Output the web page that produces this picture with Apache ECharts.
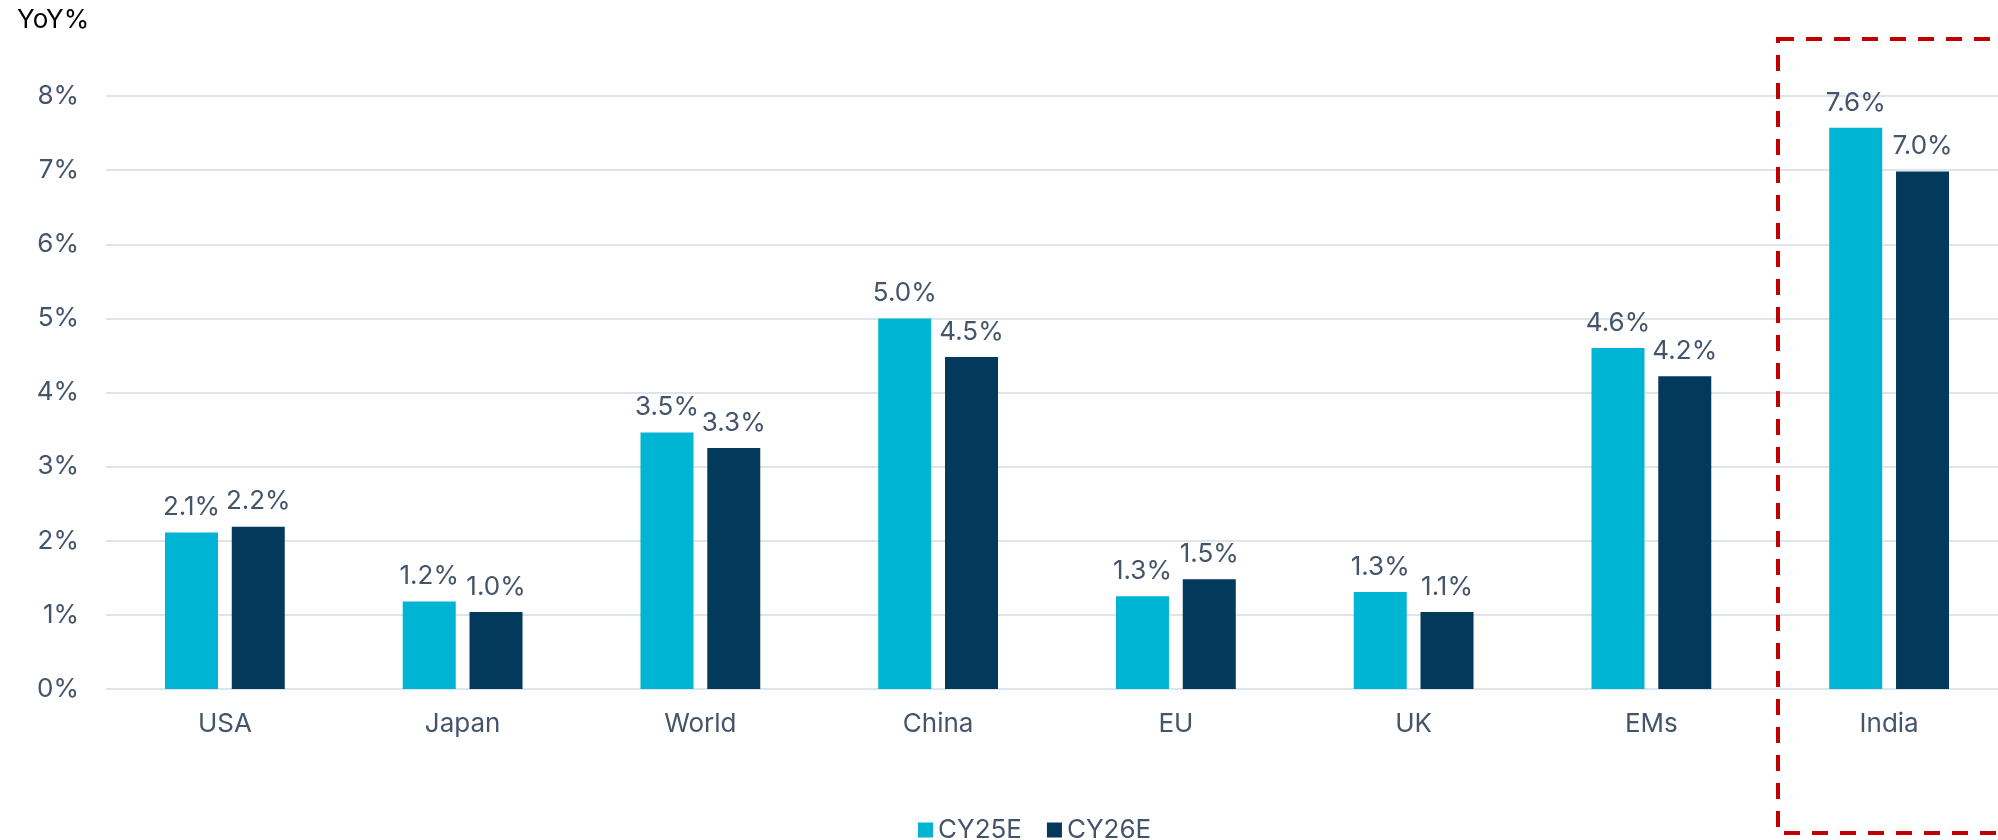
<!DOCTYPE html>
<html>
<head>
<meta charset="utf-8">
<script src="https://cdn.jsdelivr.net/npm/echarts@6/dist/echarts.min.js"></script>
<style>
  html, body { margin: 0; padding: 0; background: #fff; }
  #chart { width: 1998px; height: 840px; }
</style>
</head>
<body>
<div id="chart"></div>
<script>
// categories and series values (bar heights)
const categories = ['USA', 'Japan', 'World', 'China', 'EU', 'UK', 'EMs', 'India'];
const cy25 = [2.11, 1.18, 3.46, 5.0, 1.25, 1.31, 4.6, 7.57];
const cy26 = [2.19, 1.04, 3.25, 4.48, 1.48, 1.04, 4.22, 6.98];
// labels as printed on the chart
const cy25Labels = ['2.1%', '1.2%', '3.5%', '5.0%', '1.3%', '1.3%', '4.6%', '7.6%'];
const cy26Labels = ['2.2%', '1.0%', '3.3%', '4.5%', '1.5%', '1.1%', '4.2%', '7.0%'];
const yTicks = [0, 1, 2, 3, 4, 5, 6, 7, 8];

const textColor = '#44546A';
const font = 'Inter, "Noto Sans", sans-serif';

const chart = echarts.init(document.getElementById('chart'));

const labelStyle = function (labels) {
    return {
        show: true,
        position: 'top',
        distance: 12,
        fontSize: 26,
        fontFamily: font,
        color: textColor,
        formatter: function (p) { return labels[p.dataIndex]; }
    };
};

const option = {
    animation: false,
    title: {
        text: 'YoY%',
        left: 12,
        top: 2,
        textStyle: { fontSize: 26, fontWeight: 'normal', color: '#000', fontFamily: font }
    },
    legend: {
        left: 913,
        top: 812,
        icon: 'rect',
        itemWidth: 15,
        itemHeight: 15,
        itemGap: 25,
        textStyle: { fontSize: 26, color: textColor, fontFamily: font },
        data: ['CY25E', 'CY26E']
    },
    // grid runs a little past the right edge, as in the original
    grid: { left: 106, width: 1902, top: 96, bottom: 151, outerBoundsMode: 'none' },
    xAxis: {
        type: 'category',
        data: categories,
        axisLine: { show: false },
        axisTick: { show: false },
        axisLabel: { fontSize: 26, color: textColor, fontFamily: font, margin: 22 }
    },
    yAxis: {
        type: 'value',
        min: yTicks[0],
        max: yTicks[yTicks.length - 1],
        interval: 1,
        axisLine: { show: false },
        axisTick: { show: false },
        axisLabel: {
            fontSize: 26, color: textColor, fontFamily: font, margin: 27,
            formatter: function (v) { return v + '%'; }
        },
        splitLine: { lineStyle: { color: '#DFE3EA', width: 2 } }
    },
    series: [
        {
            name: 'CY25E',
            type: 'bar',
            data: cy25,
            barWidth: 53,
            barGap: '26%',
            itemStyle: { color: '#00B5D3' },
            label: labelStyle(cy25Labels)
        },
        {
            name: 'CY26E',
            type: 'bar',
            data: cy26,
            barWidth: 53,
            itemStyle: { color: '#03395B' },
            label: labelStyle(cy26Labels)
        }
    ],
    // dashed highlight box around India
    graphic: [{
        type: 'rect',
        shape: { x: 1778, y: 39, width: 300, height: 794 },
        style: { fill: 'none', stroke: '#C00000', lineWidth: 4, lineDash: [16, 12] },
        z: 10
    }]
};

chart.setOption(option);
</script>
</body>
</html>
